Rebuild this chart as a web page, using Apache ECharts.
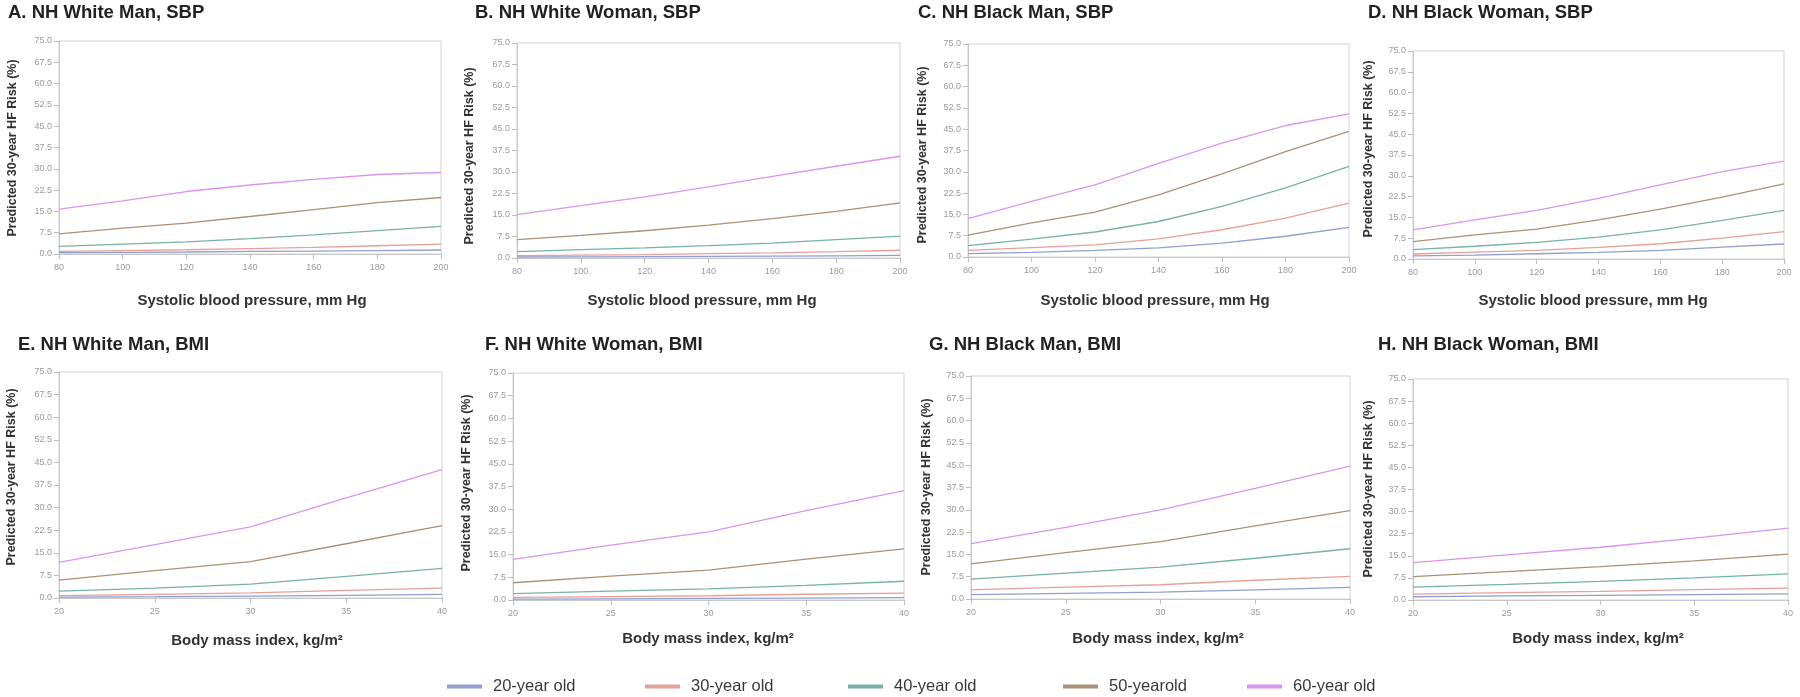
<!DOCTYPE html>
<html>
<head>
<meta charset="utf-8">
<script src="https://cdn.jsdelivr.net/npm/echarts@6/dist/echarts.min.js"></script>
<style>
html,body{margin:0;padding:0;background:#fff;}
#chart{width:1800px;height:697px;}
</style>
</head>
<body>
<div id="chart"></div>
<script>
// ---------- data ----------
const ageGroups = ['20-year old', '30-year old', '40-year old', '50-yearold', '60-year old'];
const ageColors = ['#909fcf', '#e6a09a', '#78b2a4', '#ab9176', '#d994f3'];

const sbpX = [80, 100, 120, 140, 160, 180, 200];
const bmiX = [20, 25, 30, 35, 40];
const yTickInterval = 7.5;

// Panel A: NH White Man, SBP (rows: 20,30,40,50,60-year old)
const whiteManSBP = [
  [0.5, 0.6, 0.7, 0.9, 1.0, 1.2, 1.4],
  [0.9, 1.2, 1.5, 1.9, 2.3, 2.9, 3.5],
  [2.7, 3.5, 4.3, 5.4, 6.7, 8.2, 9.7],
  [7.1, 9.1, 10.9, 13.2, 15.6, 18.1, 19.9],
  [15.8, 18.7, 22.0, 24.3, 26.3, 28.0, 28.7]
];
// Panel B: NH White Woman, SBP
const whiteWomanSBP = [
  [0.35, 0.4, 0.5, 0.55, 0.65, 0.75, 0.9],
  [0.8, 1.0, 1.2, 1.5, 1.8, 2.2, 2.7],
  [2.2, 2.9, 3.5, 4.3, 5.2, 6.4, 7.6],
  [6.4, 7.9, 9.5, 11.5, 13.7, 16.3, 19.2],
  [15.1, 18.3, 21.3, 24.8, 28.5, 32.0, 35.5]
];
// Panel C: NH Black Man, SBP
const blackManSBP = [
  [1.2, 1.6, 2.3, 3.2, 4.9, 7.3, 10.4],
  [2.3, 3.3, 4.3, 6.4, 9.6, 13.7, 19.0],
  [4.0, 6.3, 8.8, 12.5, 17.8, 24.3, 31.9],
  [7.7, 12.0, 15.8, 21.9, 29.3, 37.1, 44.2],
  [13.5, 19.6, 25.4, 33.0, 40.1, 46.3, 50.4]
];
// Panel D: NH Black Woman, SBP
const blackWomanSBP = [
  [1.1, 1.4, 1.9, 2.4, 3.1, 4.3, 5.4],
  [1.8, 2.5, 3.1, 4.2, 5.5, 7.5, 9.9],
  [3.4, 4.6, 6.0, 7.9, 10.5, 13.9, 17.5],
  [6.3, 8.7, 10.8, 14.1, 18.0, 22.3, 27.1],
  [10.5, 14.1, 17.5, 21.9, 26.7, 31.5, 35.3]
];
// Panel E: NH White Man, BMI
const whiteManBMI = [
  [0.3, 0.45, 0.65, 0.9, 1.2],
  [0.8, 1.2, 1.7, 2.5, 3.3],
  [2.3, 3.3, 4.6, 7.2, 9.8],
  [5.9, 9.1, 12.1, 18.0, 24.0],
  [11.8, 17.7, 23.6, 33.2, 42.6]
];
// Panel F: NH White Woman, BMI
const whiteWomanBMI = [
  [0.3, 0.4, 0.55, 0.65, 0.8],
  [0.9, 1.1, 1.4, 1.9, 2.3],
  [2.1, 2.9, 3.7, 4.8, 6.2],
  [5.7, 7.9, 9.9, 13.5, 16.9],
  [13.4, 18.1, 22.5, 29.5, 36.1]
];
// Panel G: NH Black Man, BMI
const blackManBMI = [
  [1.5, 1.9, 2.3, 3.1, 3.9],
  [3.1, 4.0, 4.8, 6.3, 7.6],
  [6.7, 8.7, 10.7, 13.7, 16.9],
  [11.8, 15.6, 19.3, 24.6, 29.7],
  [18.6, 24.1, 30.0, 37.2, 44.7]
];
// Panel H: NH Black Woman, BMI
const blackWomanBMI = [
  [1.1, 1.4, 1.6, 1.8, 2.1],
  [2.0, 2.5, 2.9, 3.5, 4.0],
  [4.4, 5.3, 6.3, 7.5, 8.9],
  [7.9, 9.6, 11.3, 13.3, 15.6],
  [12.7, 15.3, 17.9, 21.0, 24.4]
];

const panelTitles = [
  'A. NH White Man, SBP', 'B. NH White Woman, SBP', 'C. NH Black Man, SBP', 'D. NH Black Woman, SBP',
  'E. NH White Man, BMI', 'F. NH White Woman, BMI', 'G. NH Black Man, BMI', 'H. NH Black Woman, BMI'
];
const yTitle = 'Predicted 30-year HF Risk (%)';
const sbpTitle = 'Systolic blood pressure, mm Hg';
const bmiTitle = 'Body mass index, kg/m\u00B2';

// ---------- layout ----------
const panels = [
  {data: whiteManSBP,   x: sbpX, grid: [59, 41, 382, 213],   title: [8, 13],     yt: [13, 148],   xt: [252, 301]},
  {data: whiteWomanSBP, x: sbpX, grid: [517, 43, 383, 215],  title: [475, 13],   yt: [470, 156],  xt: [702, 301]},
  {data: blackManSBP,   x: sbpX, grid: [968, 44, 381, 213],  title: [918, 13],   yt: [923, 155],  xt: [1155, 301]},
  {data: blackWomanSBP, x: sbpX, grid: [1413, 51, 371, 208], title: [1368, 13],  yt: [1369, 149], xt: [1593, 301]},
  {data: whiteManBMI,   x: bmiX, grid: [59, 372, 383, 226],  title: [18, 345],   yt: [12, 477],   xt: [257, 641]},
  {data: whiteWomanBMI, x: bmiX, grid: [513, 373, 391, 227], title: [485, 345],  yt: [467, 483],  xt: [708, 639]},
  {data: blackManBMI,   x: bmiX, grid: [971, 376, 379, 223], title: [929, 345],  yt: [927, 487],  xt: [1158, 639]},
  {data: blackWomanBMI, x: bmiX, grid: [1413, 379, 375, 221],title: [1378, 345], yt: [1369, 489], xt: [1598, 639]}
];
const legendPos = [442, 640, 843, 1058, 1242];

const grids = [], xAxes = [], yAxes = [], series = [], graphics = [];
const fontFam = '"Liberation Sans", Arial, sans-serif';

panels.forEach((p, i) => {
  const isSBP = p.x === sbpX;
  grids.push({
    left: p.grid[0], top: p.grid[1], width: p.grid[2], height: p.grid[3],
    show: true, borderColor: '#d2d2d2', borderWidth: 1, backgroundColor: '#fff'
  });
  xAxes.push({
    type: 'value', gridIndex: i,
    min: isSBP ? 80 : 20, max: isSBP ? 200 : 40, interval: isSBP ? 20 : 5,
    axisLine: {show: true, lineStyle: {color: '#c8c8c8'}},
    axisTick: {show: true, length: 5, lineStyle: {color: '#bdbdbd'}},
    splitLine: {show: false},
    axisLabel: {color: '#9a9a9a', fontSize: 9, margin: 9, fontFamily: fontFam}
  });
  yAxes.push({
    type: 'value', gridIndex: i, min: 0, max: 75, interval: yTickInterval,
    axisLine: {show: true, lineStyle: {color: '#c8c8c8'}},
    axisTick: {show: true, length: 5, lineStyle: {color: '#bdbdbd'}},
    splitLine: {show: false},
    axisLabel: {color: '#9a9a9a', fontSize: 9, margin: 7, fontFamily: fontFam,
      formatter: v => v.toFixed(1)}
  });
  p.data.forEach((vals, k) => {
    series.push({
      type: 'line', name: ageGroups[k], xAxisIndex: i, yAxisIndex: i,
      data: p.x.map((xv, j) => [xv, vals[j]]),
      showSymbol: false, symbol: 'none', smooth: false,
      lineStyle: {color: ageColors[k], width: 1.3},
      itemStyle: {color: ageColors[k]},
      silent: true, animation: false
    });
  });
  graphics.push({
    type: 'text', x: p.title[0], y: p.title[1],
    style: {text: panelTitles[i], font: 'bold 18.5px ' + fontFam, fill: '#222',
      textAlign: 'left', align: 'left', textVerticalAlign: 'middle', verticalAlign: 'middle'}
  });
  graphics.push({
    type: 'text', x: p.yt[0], y: p.yt[1], rotation: Math.PI / 2,
    style: {text: yTitle, font: 'bold 12.5px ' + fontFam, fill: '#333',
      textAlign: 'center', align: 'center', textVerticalAlign: 'middle', verticalAlign: 'middle'}
  });
  graphics.push({
    type: 'text', x: p.xt[0], y: p.xt[1],
    style: {text: isSBP ? sbpTitle : bmiTitle, font: 'bold 15px ' + fontFam, fill: '#333',
      textAlign: 'center', align: 'center', textVerticalAlign: 'middle', verticalAlign: 'middle'}
  });
});

const legends = ageGroups.map((name, k) => ({
  data: [name], left: legendPos[k], top: 673, orient: 'horizontal',
  icon: 'rect', itemWidth: 35, itemHeight: 4, itemGap: 0,
  selectedMode: false,
  textStyle: {fontSize: 16.5, color: '#3a3a3a', fontFamily: fontFam, padding: [0, 0, 0, 6]}
}));

const chart = echarts.init(document.getElementById('chart'), null, {renderer: 'canvas'});
chart.setOption({
  backgroundColor: '#fff',
  animation: false,
  grid: grids,
  xAxis: xAxes,
  yAxis: yAxes,
  legend: legends,
  series: series,
  graphic: graphics
});
</script>
</body>
</html>
